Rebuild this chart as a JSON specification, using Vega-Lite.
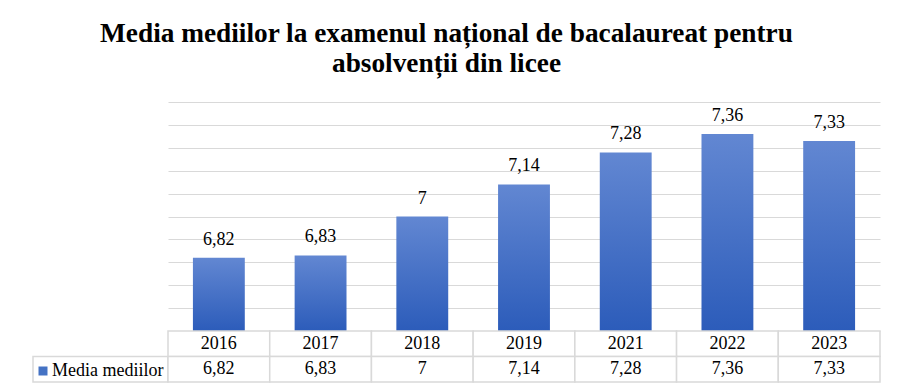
{
  "$schema": "https://vega.github.io/schema/vega-lite/v6.json",
  "padding": {"left": 32, "top": 19, "right": 0, "bottom": 0},
  "background": "white",
  "config": {
    "font": "Liberation Serif",
    "text": {"font": "Liberation Serif"},
    "view": {"stroke": null},
    "locale": {"number": {"decimal": ",", "thousands": ".", "grouping": [3], "currency": ["", " lei"]}}
  },
  "title": {
    "text": ["Media mediilor la examenul național de bacalaureat pentru", "absolvenții din licee"],
    "font": "Liberation Serif",
    "fontSize": 27.3,
    "fontWeight": "bold",
    "color": "black",
    "anchor": "middle",
    "lineHeight": 30,
    "offset": 25,
    "dx": -10
  },
  "data": {
    "values": [
      {"year": "2016", "value": 6.82},
      {"year": "2017", "value": 6.83},
      {"year": "2018", "value": 7.0},
      {"year": "2019", "value": 7.14},
      {"year": "2021", "value": 7.28},
      {"year": "2022", "value": 7.36},
      {"year": "2023", "value": 7.33}
    ]
  },
  "columns": 2,
  "spacing": 0,
  "bounds": "flush",
  "align": "each",
  "concat": [
    {
      "width": 135,
      "height": 229,
      "mark": {"type": "rect", "opacity": 0},
      "encoding": {}
    },
    {
      "width": 712,
      "height": 229,
      "encoding": {
        "x": {
          "field": "year",
          "type": "nominal",
          "sort": null,
          "axis": null,
          "scale": {"paddingInner": 0.49, "paddingOuter": 0.245}
        }
      },
      "layer": [
        {
          "mark": {
            "type": "bar",
            "clip": true,
            "fill": {
              "gradient": "linear",
              "x1": 0, "y1": 0, "x2": 0, "y2": 1,
              "stops": [
                {"offset": 0, "color": "#6287d2"},
                {"offset": 1, "color": "#2c5cba"}
              ]
            }
          },
          "encoding": {
            "y": {
              "field": "value",
              "type": "quantitative",
              "scale": {"domain": [6.5, 7.5], "zero": false, "nice": false},
              "axis": {
                "title": null,
                "labels": false,
                "ticks": false,
                "domain": false,
                "grid": true,
                "gridColor": "#d9d9d9",
                "gridWidth": 1.2,
                "tickCount": 30,
                "labelOverlap": false,
                "values": [6.5, 6.6, 6.7, 6.8, 6.9, 7.0, 7.1, 7.2, 7.3, 7.4, 7.5]
              }
            },
            "y2": {"datum": 6.5}
          }
        },
        {
          "mark": {
            "type": "text",
            "font": "Liberation Serif",
            "fontSize": 18,
            "color": "black",
            "baseline": "alphabetic",
            "dy": -13
          },
          "encoding": {
            "y": {"field": "value", "type": "quantitative"},
            "text": {"field": "value", "type": "quantitative", "format": "~g"}
          }
        }
      ]
    },
    {
      "width": 135,
      "height": 51,
      "data": {"values": [{"row": "Media mediilor", "series": "Media mediilor"}]},
      "encoding": {
        "y": {
          "field": "row",
          "type": "nominal",
          "axis": null,
          "scale": {"domain": ["An", "Media mediilor"], "paddingInner": 0, "paddingOuter": 0}
        }
      },
      "layer": [
        {
          "mark": {"type": "rect", "fill": "white", "stroke": "#d9d9d9", "strokeWidth": 1.5}
        },
        {
          "mark": {"type": "square", "filled": true, "opacity": 0},
          "encoding": {
            "color": {
              "field": "series",
              "type": "nominal",
              "scale": {"range": ["#4472c4"]},
              "legend": {
                "title": null,
                "orient": "none",
                "legendX": 1,
                "legendY": 260,
                "padding": 0,
                "symbolType": "square",
                "symbolSize": 81,
                "symbolOpacity": 1,
                "symbolStrokeWidth": 0,
                "labelFont": "Liberation Serif",
                "labelFontSize": 18,
                "labelColor": "black",
                "labelOffset": 0
              }
            }
          }
        }
      ]
    },
    {
      "width": 712,
      "height": 51,
      "encoding": {
        "x": {
          "field": "year",
          "type": "nominal",
          "sort": null,
          "axis": null,
          "scale": {"paddingInner": 0, "paddingOuter": 0}
        }
      },
      "layer": [
        {
          "mark": {"type": "rect", "fill": "white", "stroke": "#d9d9d9", "strokeWidth": 1.5},
          "encoding": {
            "y": {
              "datum": "An",
              "type": "nominal",
              "axis": null,
              "scale": {"domain": ["An", "Media mediilor"], "paddingInner": 0, "paddingOuter": 0}
            }
          }
        },
        {
          "mark": {"type": "rect", "fill": "white", "stroke": "#d9d9d9", "strokeWidth": 1.5},
          "encoding": {"y": {"datum": "Media mediilor", "type": "nominal"}}
        },
        {
          "mark": {"type": "text", "font": "Liberation Serif", "fontSize": 18, "color": "black", "baseline": "middle"},
          "encoding": {
            "y": {"datum": "An", "type": "nominal"},
            "text": {"field": "year", "type": "nominal"}
          }
        },
        {
          "mark": {"type": "text", "font": "Liberation Serif", "fontSize": 18, "color": "black", "baseline": "middle"},
          "encoding": {
            "y": {"datum": "Media mediilor", "type": "nominal"},
            "text": {"field": "value", "type": "quantitative", "format": "~g"}
          }
        }
      ]
    }
  ]
}
